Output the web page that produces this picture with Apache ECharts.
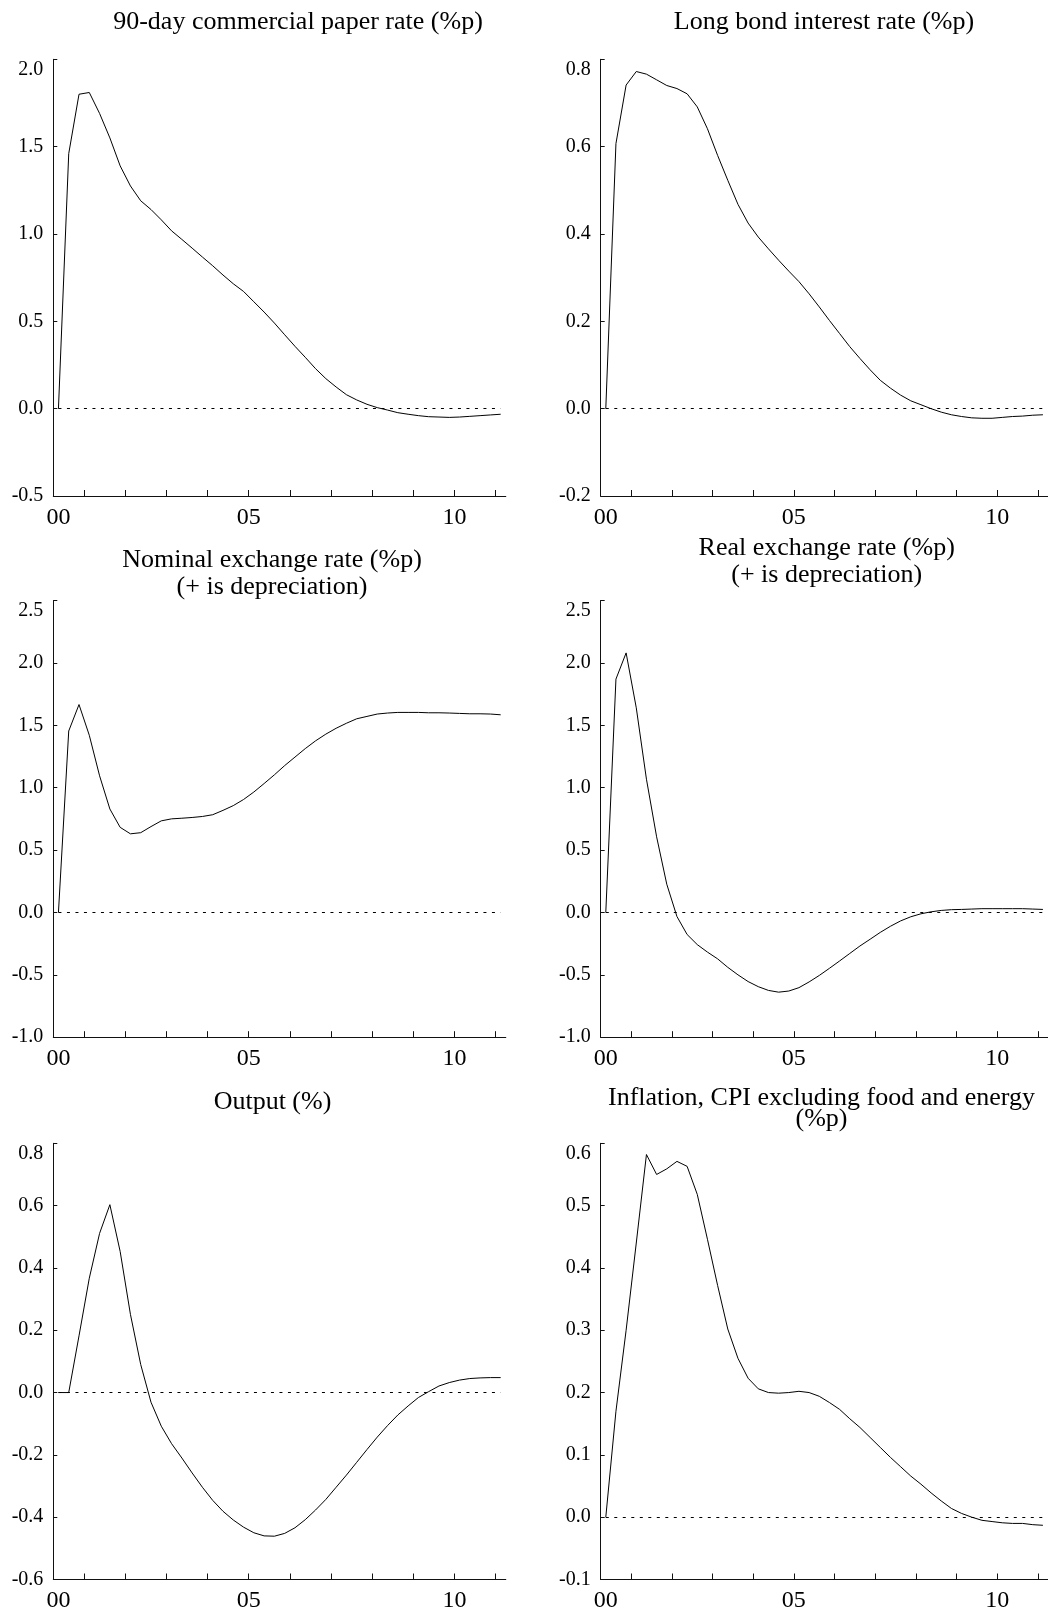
<!DOCTYPE html>
<html>
<head>
<meta charset="utf-8">
<script src="https://cdn.jsdelivr.net/npm/echarts@6/dist/echarts.min.js"></script>
<style>
html,body{margin:0;padding:0;background:#fff;}
#chart{width:1048px;height:1613px;}
</style>
</head>
<body>
<div id="chart"></div>
<script>
// ---- data (quarterly responses, 44 quarters) ----
const xTickLabels = ['00', '05', '10'];

const cpRate = [0, 1.46, 1.80, 1.81, 1.69, 1.55, 1.39, 1.275, 1.19, 1.14,
  1.081, 1.018, 0.969, 0.919, 0.868, 0.818, 0.765, 0.715, 0.671, 0.612,
  0.553, 0.49, 0.423, 0.357, 0.294, 0.229, 0.172, 0.124, 0.08, 0.05,
  0.025, 0.006, -0.008, -0.023, -0.032, -0.04, -0.046, -0.048, -0.05, -0.048,
  -0.044, -0.04, -0.036, -0.032];

const bondRate = [0, 0.607, 0.741, 0.772, 0.766, 0.753, 0.74, 0.733, 0.721, 0.691,
  0.641, 0.58, 0.523, 0.468, 0.425, 0.393, 0.366, 0.34, 0.315, 0.291,
  0.263, 0.233, 0.202, 0.172, 0.142, 0.115, 0.089, 0.065, 0.047, 0.031,
  0.018, 0.009, 0.0, -0.008, -0.014, -0.018, -0.021, -0.022, -0.022, -0.02,
  -0.018, -0.017, -0.015, -0.014];

const nominalFx = [0, 1.454, 1.666, 1.42, 1.095, 0.829, 0.682, 0.63, 0.639, 0.688,
  0.734, 0.75, 0.755, 0.761, 0.769, 0.783, 0.818, 0.856, 0.905, 0.965,
  1.033, 1.103, 1.177, 1.245, 1.313, 1.375, 1.429, 1.476, 1.516, 1.552,
  1.571, 1.59, 1.598, 1.603, 1.603, 1.603, 1.6, 1.6, 1.598, 1.595,
  1.592, 1.592, 1.59, 1.584];

const realFx = [0, 1.87, 2.08, 1.64, 1.068, 0.606, 0.226, -0.033, -0.177, -0.258,
  -0.318, -0.372, -0.44, -0.5, -0.554, -0.595, -0.625, -0.639, -0.63, -0.603,
  -0.557, -0.505, -0.448, -0.389, -0.329, -0.269, -0.215, -0.16, -0.111, -0.068,
  -0.035, -0.011, 0.005, 0.016, 0.022, 0.024, 0.027, 0.03, 0.03, 0.03,
  0.03, 0.03, 0.027, 0.024];

const output = [0, 0, 0.182, 0.367, 0.511, 0.603, 0.453, 0.251, 0.09, -0.031,
  -0.108, -0.164, -0.21, -0.258, -0.304, -0.346, -0.381, -0.409, -0.432, -0.45,
  -0.46, -0.461, -0.452, -0.434, -0.408, -0.377, -0.343, -0.304, -0.265, -0.224,
  -0.183, -0.143, -0.106, -0.072, -0.043, -0.016, 0.003, 0.021, 0.032, 0.04,
  0.045, 0.047, 0.048, 0.048];

const inflation = [0, 0.17, 0.30, 0.44, 0.582, 0.55, 0.559, 0.571, 0.563, 0.518,
  0.446, 0.372, 0.302, 0.255, 0.223, 0.206, 0.2, 0.199, 0.2, 0.202,
  0.2, 0.194, 0.184, 0.173, 0.158, 0.144, 0.128, 0.112, 0.096, 0.081,
  0.066, 0.053, 0.039, 0.026, 0.014, 0.006, 0.0, -0.005, -0.007, -0.009,
  -0.01, -0.01, -0.012, -0.013];

const titles = [
  '90-day commercial paper rate (%p)',
  'Long bond interest rate (%p)',
  'Nominal exchange rate (%p)\n(+ is depreciation)',
  'Real exchange rate (%p)\n(+ is depreciation)',
  'Output (%)',
  'Inflation, CPI excluding food and energy\n(%p)'
];

// ---- layout / styling ----
const FONT = '"Liberation Serif", "Times New Roman", serif';
const colX = [53.3, 600.7];
const rowY = [59.3, 600.5, 1143.3];
const W = 452.5, H = 436.7;

const panels = [
  {data: cpRate,    min: -0.5, max: 2.0, step: 0.5, col: 0, row: 0, tx: 298,   ty: 22.6,   lh: 26},
  {data: bondRate,  min: -0.2, max: 0.8, step: 0.2, col: 1, row: 0, tx: 824,   ty: 22.6,   lh: 26},
  {data: nominalFx, min: -1.0, max: 2.5, step: 0.5, col: 0, row: 1, tx: 272,   ty: 573.7,  lh: 26.5},
  {data: realFx,    min: -1.0, max: 2.5, step: 0.5, col: 1, row: 1, tx: 826.7, ty: 561.7,  lh: 26.5},
  {data: output,    min: -0.6, max: 0.8, step: 0.2, col: 0, row: 2, tx: 272.5, ty: 1102.6, lh: 26},
  {data: inflation, min: -0.1, max: 0.6, step: 0.1, col: 1, row: 2, tx: 821.5, ty: 1108.7, lh: 21.5}
];

// year tick marks (in quarter-index units) and label anchors
const yearTickAt = [2.5, 6.5, 10.5, 14.5, 18.5, 22.5, 26.5, 30.5, 34.5, 38.5, 42.5];
const yearLabelAt = [0, 18.5, 38.5];

const grid = [], xAxis = [], yAxis = [], series = [], graphic = [];

panels.forEach((p, k) => {
  grid.push({left: colX[p.col], top: rowY[p.row], width: W, height: H, containLabel: false});
  xAxis.push({
    type: 'value', gridIndex: k, min: -0.5, max: 43.5,
    axisLine: {show: true, onZero: false, lineStyle: {color: '#111', width: 1}},
    axisTick: {show: true, inside: true, length: 6, customValues: yearTickAt,
      lineStyle: {color: '#111', width: 1}},
    axisLabel: {show: true, customValues: yearLabelAt, margin: 9.5,
      fontFamily: FONT, fontSize: 24, color: '#000',
      formatter: v => { const j = yearLabelAt.indexOf(v); return j >= 0 ? xTickLabels[j] : ''; }},
    splitLine: {show: false}
  });
  yAxis.push({
    type: 'value', gridIndex: k, min: p.min, max: p.max, interval: p.step,
    axisLine: {show: true, onZero: false, lineStyle: {color: '#111', width: 1}},
    axisTick: {show: true, inside: true, length: 4, lineStyle: {color: '#111', width: 1}},
    axisLabel: {show: true, margin: 10, fontFamily: FONT, fontSize: 20, color: '#000',
      verticalAlignMaxLabel: 'top',
      formatter: v => v.toFixed(1)},
    splitLine: {show: false}
  });
  const n = p.data.length;
  series.push({
    type: 'line', xAxisIndex: k, yAxisIndex: k,
    data: p.data.map((v, i) => [i, v]),
    showSymbol: false, symbol: 'none', smooth: false, animation: false,
    lineStyle: {color: '#000', width: 1},
    markLine: {
      silent: true, symbol: ['none', 'none'], animation: false,
      label: {show: false},
      lineStyle: {color: '#000', width: 1, type: [3, 5.5]},
      data: [[{coord: [0, 0]}, {coord: [n - 1, 0]}]]
    }
  });
  graphic.push({
    type: 'text', x: p.tx, y: p.ty, silent: true,
    style: {
      text: titles[k], fill: '#000',
      fontFamily: FONT, fontSize: 26, lineHeight: p.lh,
      textAlign: 'center', textVerticalAlign: 'middle',
      align: 'center', verticalAlign: 'middle'
    }
  });
});

const chart = echarts.init(document.getElementById('chart'), null, {renderer: 'canvas'});
chart.setOption({
  animation: false,
  backgroundColor: '#fff',
  grid, xAxis, yAxis, series, graphic
});
</script>
</body>
</html>
